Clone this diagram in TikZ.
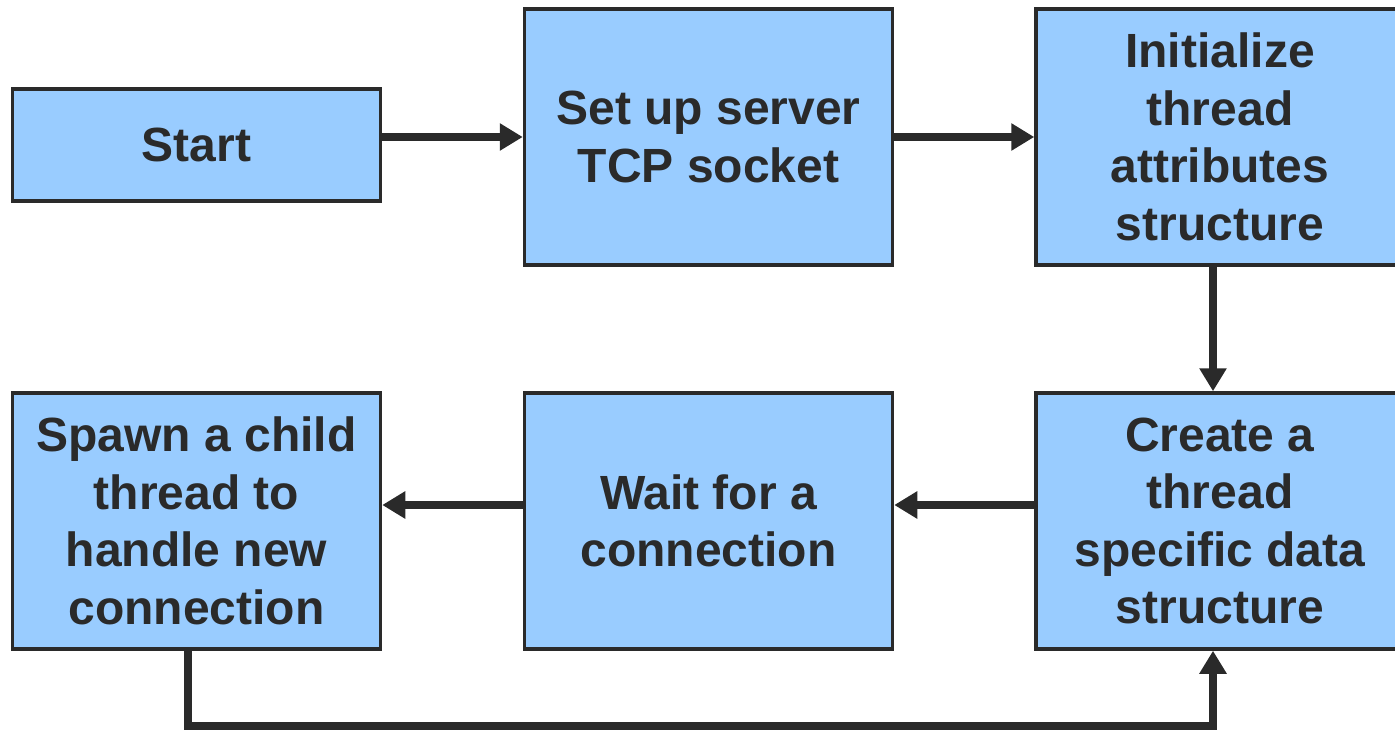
\documentclass[tikz,border=0pt]{standalone}
\usepackage{fontspec}
\setmainfont{Liberation Sans}
\usetikzlibrary{arrows.meta}
\definecolor{boxfill}{HTML}{99CCFF}
\definecolor{ink}{HTML}{2A2A2A}
\tikzset{
  stepbox/.style={draw=ink, line width=3.5pt, fill=boxfill, text=ink,
    font=\fontsize{48}{57.5}\selectfont\bfseries, align=center,
    inner sep=0pt, minimum width=368pt, minimum height=256pt},
  flow/.style={draw=ink, line width=8pt,
    -{Triangle[width=26pt,length=23pt]}}
}
\begin{document}
\begin{tikzpicture}[x=1pt, y=-1pt]
  \useasboundingbox (0,0) rectangle (1395,730);
  % top row
  \node[stepbox, minimum height=112pt] (start) at (196.5,145) {Start};
  \node[stepbox] (setup) at (708.5,137) {Set up server\\TCP socket};
  \node[stepbox] (init) at (1220,137) {Initialize\\thread\\attributes\\structure};
  % bottom row
  \node[stepbox] (create) at (1220,521) {Create a\\thread\\specific data\\structure};
  \node[stepbox] (wait) at (708.5,521) {Wait for a\\connection};
  \node[stepbox] (spawn) at (196.5,521) {Spawn a child\\thread to\\handle new\\connection};
  % connectors
  \coordinate (toprow) at (0,137);
  \coordinate (lowrow) at (0,505);
  \coordinate (loop) at (0,726);
  \draw[flow] (start.east |- toprow) -- (setup.west |- toprow);
  \draw[flow] (setup.east) -- (init.west);
  \draw[flow] ([xshift=-7pt]init.south) -- ([xshift=-7pt]create.north);
  \draw[flow] (create.west |- lowrow) -- (wait.east |- lowrow);
  \draw[flow] (wait.west |- lowrow) -- (spawn.east |- lowrow);
  \draw[flow]
    ([xshift=-9pt]spawn.south) -- ([xshift=-9pt]spawn.south |- loop)
    -- ([xshift=-7pt]create.south |- loop) -- ([xshift=-7pt]create.south);
\end{tikzpicture}
\end{document}
